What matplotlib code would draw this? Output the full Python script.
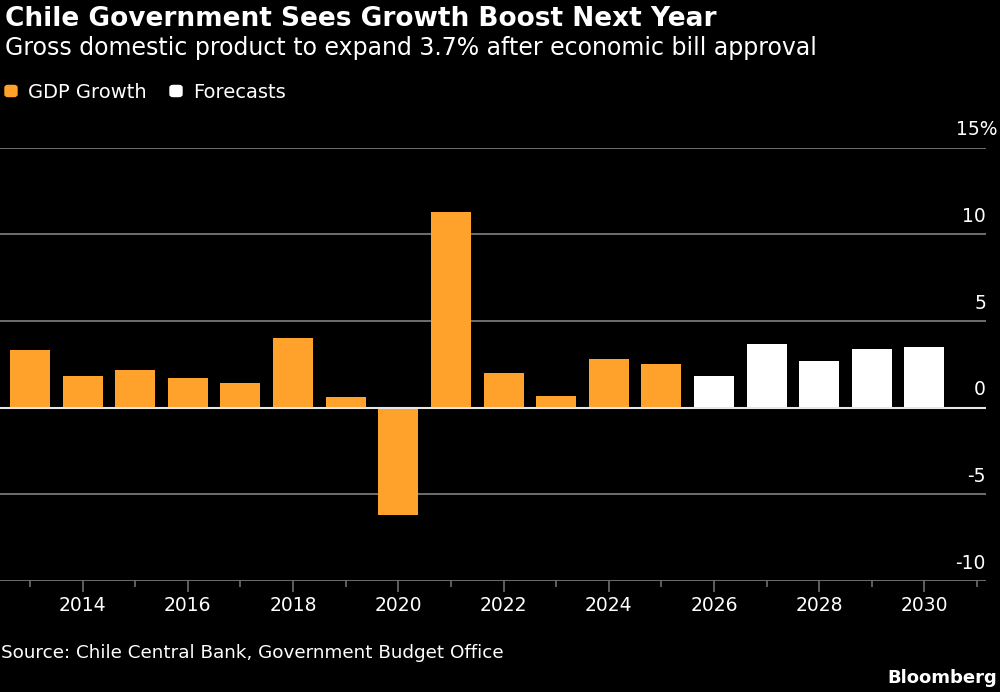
import matplotlib
matplotlib.use('Agg')
import matplotlib.pyplot as plt
import matplotlib.transforms as mtransforms
from matplotlib.patches import FancyBboxPatch
from matplotlib.ticker import MultipleLocator

# data
years = list(range(2013, 2031))
growth = [3.3, 1.8, 2.2, 1.7, 1.4, 4.0, 0.6, -6.2, 11.3, 2.0, 0.7, 2.8, 2.5,
          1.8, 3.7, 2.7, 3.4, 3.5]
first_forecast = 2026
yticks = [-10, -5, 0, 5, 10, 15]
xtick_labels = [str(y) for y in range(2014, 2031, 2)]

orange = '#ffa22b'
grid_col = '#6e6e6e'
plt.rcParams['font.family'] = ['DejaVu Sans']

fig = plt.figure(figsize=(10, 6.92), dpi=100, facecolor='black')
ax = fig.add_axes([0.0, 0.1604, 0.986, 0.6262])
ax.set_facecolor('black')

colors = [orange if y < first_forecast else 'white' for y in years]
ax.bar(years, growth, width=0.76, color=colors, zorder=3)

ax.set_xlim(2012.43, 2031.17)
ax.set_ylim(-10, 15)

# gridlines
for v in yticks:
    if v == 0:
        ax.axhline(v, color='#e6e6e6', lw=1.5, zorder=4)
    else:
        ax.axhline(v, color=grid_col, lw=1.4, zorder=1)

# y labels sitting above gridlines on the right
trans = mtransforms.blended_transform_factory(ax.transAxes, ax.transData)
off = mtransforms.offset_copy(trans, fig=fig, x=0, y=6, units='points')
for v in yticks[:-1]:
    ax.text(1.0, v, str(v), transform=off, ha='right', va='bottom',
            color='white', fontsize=13.5, clip_on=False)
trans_f = mtransforms.blended_transform_factory(fig.transFigure, ax.transData)
off_f = mtransforms.offset_copy(trans_f, fig=fig, x=0, y=6, units='points')
ax.text(0.998, 15, '15%', transform=off_f, ha='right', va='bottom',
        color='white', fontsize=13.5, clip_on=False)

for s in ax.spines.values():
    s.set_visible(False)
ax.set_yticks([])
ax.set_xticks(range(2014, 2031, 2))
ax.set_xticklabels(xtick_labels)
ax.xaxis.set_minor_locator(MultipleLocator(1))
ax.tick_params(axis='x', which='major', length=8, width=1.2, color=grid_col,
               labelcolor='white', labelsize=13.5, pad=3)
ax.tick_params(axis='x', which='minor', length=4.5, width=1.2, color=grid_col)

# title, subtitle, legend
fig.text(0.005, 0.973, 'Chile Government Sees Growth Boost Next Year',
         color='white', fontsize=19, fontweight='bold', va='center')
fig.text(0.005, 0.930, 'Gross domestic product to expand 3.7% after economic bill approval',
         color='white', fontsize=17, va='center')

for x0, col in [(0.005, orange), (0.170, 'white')]:
    fig.patches.append(FancyBboxPatch((x0, 0.8605), 0.012, 0.016,
                                      boxstyle='round,pad=0,rounding_size=0.003',
                                      color=col, transform=fig.transFigure,
                                      figure=fig))
fig.text(0.028, 0.866, 'GDP Growth', color='white', fontsize=14, va='center')
fig.text(0.193, 0.866, 'Forecasts', color='white', fontsize=14, va='center')

fig.text(0.001, 0.056, 'Source: Chile Central Bank, Government Budget Office',
         color='white', fontsize=13.2, va='center')
fig.text(0.997, 0.020, 'Bloomberg', color='white', fontsize=13,
         fontweight='bold', ha='right', va='center')

fig.savefig('out.png', dpi=100, facecolor='black')
